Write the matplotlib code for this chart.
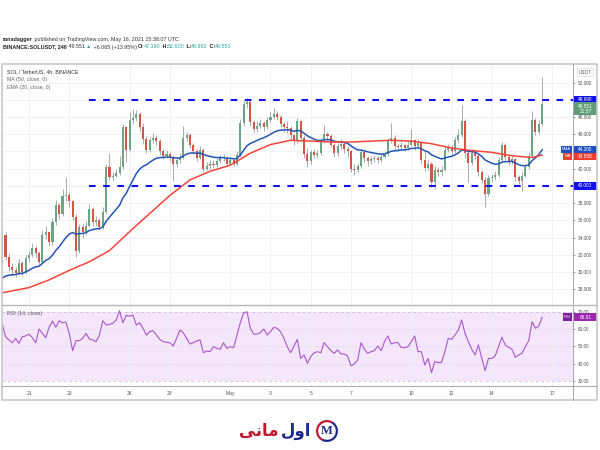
import numpy as np
import matplotlib.pyplot as plt
from matplotlib.patches import Rectangle, Wedge

plt.rcParams['font.family'] = ['Liberation Sans', 'DejaVu Sans']
plt.rcParams['lines.scale_dashes'] = False

# ---- data (4h candles, Apr 19 16:00 -> May 16 12:00) ----
first_open = 31.0
closes = [
    34.3, 31.8, 30.6, 30.2, 29.9, 31.0, 30.0, 31.6, 32.0, 32.8,
    32.2, 31.2, 34.3, 34.6, 33.5, 35.8, 37.8, 36.8, 38.8, 38.9,
    38.2, 36.4, 32.5, 35.2, 34.6, 35.4, 37.3, 35.8, 36.0, 35.2,
    37.0, 42.2, 41.0, 41.2, 41.5, 42.2, 46.8, 44.2, 47.6, 47.9,
    48.4, 46.8, 45.4, 44.2, 45.3, 45.6, 45.2, 44.0, 43.5, 43.7,
    43.4, 42.5, 43.0, 43.3, 45.6, 45.9, 44.8, 44.1, 43.3, 44.2,
    42.0, 42.3, 42.6, 42.4, 42.9, 43.2, 43.3, 42.6, 43.0, 42.6,
    43.6, 47.3, 49.5, 49.7, 47.4, 46.6, 47.0, 47.3, 46.8, 47.6,
    48.0, 48.4, 48.0, 47.2, 46.8, 46.7, 45.9, 45.2, 47.5, 45.6,
    43.7, 42.9, 43.9, 43.6, 43.8, 45.3, 46.0, 45.8, 44.8, 43.8,
    44.6, 44.9, 44.3, 44.0, 42.0, 41.8, 42.3, 43.9, 43.2, 42.9,
    43.1, 43.2, 43.0, 43.4, 43.7, 45.3, 45.6, 44.6, 44.5, 44.7,
    44.4, 44.8, 45.3, 44.6, 45.0, 43.0, 42.1, 42.6, 40.4, 41.9,
    41.6, 41.9, 44.2, 44.5, 44.0, 45.3, 45.9, 47.5, 43.8, 42.7,
    43.8, 43.5, 41.6, 40.7, 39.1, 40.9, 41.0, 41.3, 43.0, 44.7,
    43.4, 42.8, 43.1, 41.0, 40.6, 41.2, 42.2, 43.5, 47.6, 46.3,
    47.19, 49.551]
highs = [
    34.7, 34.6, 32.2, 31.0, 30.6, 31.5, 31.3, 32.0, 32.5, 33.4,
    33.0, 32.5, 34.9, 35.4, 34.8, 36.3, 38.4, 38.0, 39.6, 41.0,
    39.2, 38.4, 36.8, 35.6, 35.6, 35.9, 37.9, 37.6, 36.5, 36.3,
    37.5, 42.6, 43.8, 41.6, 42.0, 43.5, 47.2, 47.0, 48.6, 48.9,
    48.8, 48.6, 47.3, 45.8, 45.7, 46.2, 45.9, 45.4, 44.3, 44.2,
    43.9, 43.6, 43.4, 43.8, 47.0, 46.3, 46.1, 45.0, 44.3, 44.6,
    44.4, 42.8, 43.0, 43.0, 43.3, 43.6, 43.7, 43.5, 43.4, 43.2,
    44.0, 47.8, 50.0, 50.2, 50.0, 47.6, 47.5, 47.8, 47.5, 48.0,
    48.6, 49.0, 48.7, 48.2, 47.4, 47.5, 47.0, 46.0, 47.9, 47.6,
    45.9, 44.4, 44.2, 44.3, 44.2, 45.6, 47.1, 46.3, 46.0, 45.0,
    45.0, 45.4, 45.1, 44.6, 44.2, 42.5, 42.7, 44.3, 44.1, 43.5,
    43.5, 43.6, 43.5, 43.7, 44.1, 45.6, 47.3, 45.9, 44.9, 45.1,
    44.9, 45.2, 46.6, 45.5, 45.4, 45.2, 44.0, 43.0, 42.8, 42.3,
    42.2, 42.3, 44.6, 44.9, 44.8, 45.7, 46.6, 49.4, 47.8, 44.2,
    44.3, 44.2, 43.7, 41.9, 41.0, 41.3, 41.4, 41.7, 43.4, 45.1,
    45.0, 43.7, 43.5, 43.3, 41.3, 41.6, 42.6, 43.9, 48.7, 47.9,
    47.7, 52.6]
lows = [
    30.8, 31.4, 30.1, 29.6, 29.4, 29.7, 29.5, 29.8, 31.2, 31.8,
    31.6, 30.8, 31.0, 33.9, 33.0, 33.2, 35.5, 36.2, 36.5, 38.2,
    37.6, 36.0, 31.8, 32.2, 34.0, 34.3, 35.2, 35.4, 35.4, 34.9,
    35.0, 36.8, 40.7, 40.6, 41.0, 41.3, 42.0, 42.8, 44.0, 47.2,
    47.5, 46.4, 44.9, 43.8, 43.9, 45.0, 44.8, 43.6, 43.1, 43.2,
    42.9, 40.6, 42.2, 42.7, 43.1, 45.2, 44.4, 43.7, 42.9, 43.1,
    41.6, 41.8, 42.0, 42.1, 42.2, 42.7, 42.9, 42.3, 42.4, 42.3,
    42.4, 43.4, 47.0, 49.1, 47.0, 46.1, 46.3, 46.7, 46.4, 46.6,
    47.4, 47.8, 47.6, 46.8, 46.3, 46.2, 45.5, 44.8, 45.0, 45.2,
    43.3, 42.2, 42.6, 43.3, 43.3, 43.6, 45.0, 45.2, 44.5, 43.4,
    43.5, 44.3, 43.8, 43.4, 41.6, 41.3, 41.6, 42.1, 42.8, 42.3,
    42.6, 42.8, 42.7, 42.8, 43.2, 43.5, 45.0, 44.2, 44.1, 44.2,
    44.0, 44.2, 44.6, 44.2, 44.4, 42.6, 41.7, 41.8, 39.9, 39.6,
    41.2, 41.2, 41.7, 43.9, 43.6, 43.8, 45.0, 45.7, 43.3, 40.5,
    42.4, 43.0, 41.2, 40.3, 37.5, 38.8, 40.5, 40.7, 41.0, 42.8,
    43.0, 42.4, 42.5, 40.6, 40.2, 39.4, 41.0, 42.0, 43.3, 45.9,
    46.0, 46.962]

ema_seed = 29.3
ma_idx = [0, 2, 8, 14, 20, 26, 32, 38, 44, 50, 56, 62, 68, 74, 80, 86, 92,
          98, 104, 110, 116, 122, 128, 134, 140, 146, 152, 158, 161]
ma_vals = [27.6, 27.75, 28.2, 29.1, 30.2, 31.2, 32.5, 34.7, 36.8, 38.9, 40.7,
           41.7, 42.4, 43.8, 44.8, 45.3, 45.2, 45.1, 45.1, 45.2, 45.3, 45.2,
           44.9, 44.4, 44.1, 43.9, 43.5, 43.3, 43.59]

rsi_vals = [
    63.0, 55.6, 53.7, 52.0, 54.6, 51.7, 55.6, 56.0, 57.0, 55.0,
    52.0, 60.0, 57.5, 55.0, 61.0, 64.6, 61.0, 64.8, 63.6, 64.0,
    57.5, 47.5, 53.3, 53.3, 54.6, 57.5, 54.2, 53.7, 52.7, 56.5,
    64.8, 62.3, 62.7, 63.3, 65.2, 70.6, 63.6, 67.9, 67.5, 68.0,
    62.3, 63.6, 60.4, 56.5, 58.5, 59.0, 56.5, 54.0, 52.7, 52.3,
    52.1, 50.2, 54.6, 59.4, 57.9, 54.6, 51.3, 52.1, 53.1, 53.7,
    46.3, 47.3, 46.9, 49.8, 48.8, 48.3, 52.1, 48.8, 49.8, 49.2,
    56.5, 63.6, 69.4, 70.0, 60.4, 57.1, 57.1, 57.9, 60.0, 56.5,
    58.5, 61.0, 60.4, 58.5, 54.6, 49.8, 46.3, 50.2, 54.0,
    43.0, 45.0, 40.2, 44.0, 46.3, 46.9, 46.3, 52.1, 49.8, 47.5,
    46.0, 47.9, 45.6, 45.6, 44.4, 38.7, 39.8, 42.1, 52.1, 48.3,
    46.0, 46.9, 47.5, 50.2, 47.5, 52.7, 56.0, 51.3, 52.1, 52.1,
    49.4, 49.2, 49.8, 52.7, 56.0, 46.9, 46.9, 39.2, 43.0, 34.8,
    41.2, 40.6, 40.6, 46.9, 54.6, 54.0, 56.5, 59.4, 65.2, 57.5,
    52.7, 48.3, 45.0, 50.8, 43.0, 36.0, 43.0, 43.0, 44.4, 49.8,
    55.2, 50.8, 49.4, 48.3, 43.7, 45.0, 46.0, 49.8, 53.3, 64.2,
    60.4, 61.7, 66.81]

day_idx = [8, 20, 38, 50, 68, 80, 92, 104, 122, 134, 146, 164]
day_labels = ["21", "23", "26", "28", "May", "3", "5", "7", "10", "12", "14", "17"]
price_ticks = [28, 30, 32, 34, 36, 38, 40, 42, 44, 46, 48, 50, 52]
covered_ticks = [40, 44, 50]   # hidden behind the coloured price tags
rsi_ticks = [30, 40, 50, 60, 70]
resistance = 49.99
support = 40.0
level_start = 26
last_price = 49.551
ema_last = 44.200
ma_last = 43.588
rsi_last = 66.81

# ---- colours ----
UP, DOWN, WICK = '#6ba583', '#d75442', '#8a8a8c'
EMA_C, MA_C = '#2156b6', '#f4443a'
LEVEL_C = '#1212ee'
RSI_C = '#ad55cc'
GRID = '#eef0f4'
TXT = '#555555'

W, H = 600, 450
fig = plt.figure(figsize=(6, 4.5), dpi=100)
fig.patch.set_facecolor('white')


def px_axes(x0, y0, x1, y1):
    return fig.add_axes([x0 / W, 1 - y1 / H, (x1 - x0) / W, (y1 - y0) / H])


XL = (-0.05, 170.2)
ax = px_axes(2, 64, 573, 304)
rx = px_axes(2, 305, 573, 386)

idx = np.arange(len(closes))
closes = np.array(closes)
opens = np.r_[first_open, closes[:-1]]
up = closes >= opens

# grid
for d in day_idx:
    ax.axvline(d, color=GRID, lw=0.6, zorder=0)
    rx.axvline(d, color=GRID, lw=0.6, zorder=1)
for p in price_ticks:
    ax.axhline(p, color=GRID, lw=0.6, zorder=0)

# candles
ax.vlines(idx, lows, highs, color=WICK, lw=0.5, zorder=2)
ax.bar(idx, np.maximum(np.abs(closes - opens), 0.06), bottom=np.minimum(opens, closes),
       width=0.62, color=np.where(up, UP, DOWN), lw=0, zorder=3)

# moving averages
ema = [ema_seed]
k = 2 / 21
for c in closes[1:]:
    ema.append(c * k + ema[-1] * (1 - k))
ax.plot(idx, ema, color=EMA_C, lw=1.1, zorder=4)
ax.plot(ma_idx, ma_vals, color=MA_C, lw=1.1, zorder=4)

# horizontal levels
for lvl in (resistance, support):
    ax.plot([level_start, XL[1]], [lvl, lvl], color=LEVEL_C, lw=1.5,
            dashes=(4.8, 5.4), zorder=5, solid_capstyle='butt')

ax.set_xlim(*XL)
ax.set_ylim(26.3, 54.15)
ax.set_xticks([])
ax.yaxis.tick_right()
ax.set_yticks(price_ticks)
ax.set_yticklabels(["" if p in covered_ticks else f"{p:.3f}" for p in price_ticks])
ax.tick_params(axis='y', labelsize=3.4, colors=TXT, length=1.5, width=0.4, pad=1.8)
for s in ax.spines.values():
    s.set_visible(False)

ax.text(0.009, 1 - 8 / 240, "SOL / TetherUS, 4h, BINANCE", transform=ax.transAxes,
        fontsize=3.8, color='#333333', va='center')
ax.text(0.009, 1 - 16 / 240, "MA (50, close, 0)", transform=ax.transAxes,
        fontsize=3.8, color='#666666', va='center')
ax.text(0.009, 1 - 24 / 240, "EMA (20, close, 0)", transform=ax.transAxes,
        fontsize=3.8, color='#666666', va='center')


def value_box(axis, y, h, text, fc, x=1.0015, w=0.0405, fs=3.4):
    tr = axis.get_yaxis_transform()
    axis.add_patch(Rectangle((x, y - h / 2), w, h, transform=tr, fc=fc, ec='none',
                             clip_on=False, zorder=8))
    axis.text(x + w / 2, y, text, transform=tr, ha='center', va='center', fontsize=fs,
              color='white', clip_on=False, zorder=9, linespacing=1.15)


px_price = 1 / 8.6
# label slots on the price scale (TradingView nudges the MA tag below the EMA tag)
ema_slot = ema_last + 0.05
ma_slot = ema_slot - 7 * px_price
value_box(ax, resistance, 8 * px_price, f"{resistance:.3f}", LEVEL_C)
value_box(ax, 48.95, 13 * px_price, f"{last_price:.3f}\n21:57", '#5f9f78')
value_box(ax, ema_slot, 7 * px_price, f"{ema_last:.3f}", '#1f50c4')
value_box(ax, ma_slot, 7 * px_price, f"{ma_last:.3f}", '#f23c2e')
value_box(ax, support, 8 * px_price, f"{support:.3f}", LEVEL_C)
value_box(ax, ema_slot, 7 * px_price, "EMA", '#1f50c4', x=0.979, w=0.019, fs=3.0)
value_box(ax, ma_slot, 7 * px_price, "MA", '#f23c2e', x=0.982, w=0.016, fs=3.0)
ax.text(1.021, 53.2, "USDT", transform=ax.get_yaxis_transform(), ha='center', va='center',
        fontsize=3.3, color=TXT, clip_on=False,
        bbox=dict(boxstyle='square,pad=0.35', fc='white', ec='#cfcfcf', lw=0.4))

# RSI pane
rx.fill_between(XL, 30, 70, color='#f4e6fb', lw=0, zorder=0)
for lvl in (30, 70):
    rx.axhline(lvl, color='#c7b3d6', lw=0.5, dashes=(2, 2), zorder=1)
for lvl in (40, 50, 60):
    rx.axhline(lvl, color='#e6dced', lw=0.5, zorder=1)
rx.plot(idx, rsi_vals, color=RSI_C, lw=0.8, zorder=3)
rx.set_xlim(*XL)
rx.set_ylim(27.05, 73.9)
rx.yaxis.tick_right()
rx.set_yticks(rsi_ticks)
rx.set_yticklabels([f"{v:.2f}" for v in rsi_ticks])
rx.tick_params(axis='y', labelsize=3.4, colors=TXT, length=1.5, width=0.4, pad=1.8)
rx.set_xticks(day_idx)
rx.set_xticklabels(day_labels)
rx.tick_params(axis='x', labelsize=3.6, colors=TXT, length=0, pad=3.6)
for s in rx.spines.values():
    s.set_visible(False)
rx.text(0.009, 1 - 9 / 81, "RSI (14, close)", transform=rx.transAxes,
        fontsize=3.8, color='#555555', va='center')
value_box(rx, rsi_last, 8 / 1.73, f"{rsi_last:.2f}", '#9c27b0')
value_box(rx, rsi_last, 8 / 1.73, "RSI", '#7b1fa2', x=0.982, w=0.016, fs=3.0)

# overlay in pixel coordinates: frame, header, logo
ov = fig.add_axes([0, 0, 1, 1], zorder=10)
ov.set_xlim(0, W)
ov.set_ylim(H, 0)
ov.axis('off')
ov.patch.set_alpha(0)
ov.add_patch(Rectangle((2, 64), 595, 336, fill=False, ec='#c8c8c8', lw=1.2))
ov.plot([573, 573], [64, 400], color='#9a9a9a', lw=0.6)
ov.plot([2, 597], [304.5, 304.5], color='#b8b8b8', lw=1.0)
ov.plot([2, 597], [386, 386], color='#9a9a9a', lw=0.6)

renderer = fig.canvas.get_renderer()


def runs(x, y, parts, fs=3.9):
    for s, col, wt in parts:
        t = ov.text(x, y, s, fontsize=fs, color=col, fontweight=wt, va='center', ha='left')
        x += t.get_window_extent(renderer).width


TEAL = '#26a69a'
runs(3, 39, [("ranadagger", '#222222', 'bold'),
             (" published on TradingView.com, May 16, 2021 15:38:07 UTC", '#333333', 'normal')])
runs(3, 47, [("BINANCE:SOLUSDT, 240", '#222222', 'bold'),
             (" 49.551 ", '#333333', 'normal'), ("▲", TEAL, 'normal'),
             (" +6.065 (+13.95%) ", '#333333', 'normal'),
             ("O:", '#222222', 'bold'), ("47.190", TEAL, 'normal'),
             (" H:", '#222222', 'bold'), ("52.600", TEAL, 'normal'),
             (" L:", '#222222', 'bold'), ("46.962", TEAL, 'normal'),
             (" C:", '#222222', 'bold'), ("49.551", TEAL, 'normal')])

# logo: "اول مانی" (presentation forms in visual order)
ov.text(296, 431, "\ufedd\ufeed\ufe8d", fontsize=12, fontweight='bold', color='#1f2a8f',
        family='DejaVu Sans', ha='center', va='center')
ov.text(259, 431, "\ufbfd\ufee7\ufe8e\ufee3", fontsize=12, fontweight='bold', color='#c0182a',
        family='DejaVu Sans', ha='center', va='center')
ov.add_patch(Wedge((327, 431), 11, 120, 300, width=2.2, fc='#c0182a', ec='none'))
ov.add_patch(Wedge((327, 431), 11, 300, 480, width=2.2, fc='#1f2a8f', ec='none'))
ov.text(327, 431, "M", fontsize=9, fontweight='bold', color='#1f2a8f',
        family='Liberation Serif', ha='center', va='center')

fig.savefig('out.png', dpi=100)
